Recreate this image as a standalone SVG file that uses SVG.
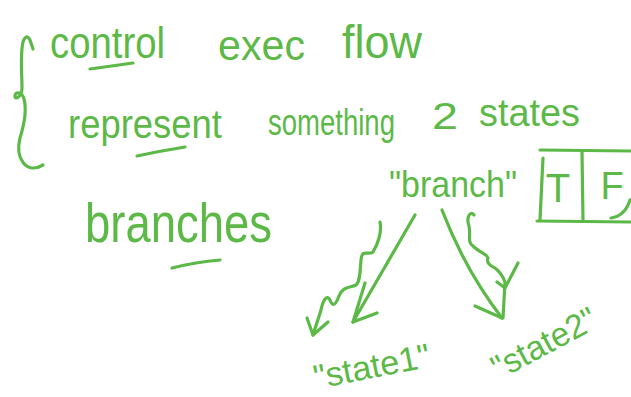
<svg xmlns="http://www.w3.org/2000/svg" width="631" height="397" viewBox="0 0 631 397">
<style>
.t{font-family:"Liberation Sans","DejaVu Sans",sans-serif;fill:#5cb947;}
.s{fill:none;stroke:#5cb947;stroke-width:3.2;stroke-linecap:round;stroke-linejoin:round;}
</style>
<rect width="631" height="397" fill="#ffffff"/>
<g id="brace">
<path class="s" d="M33,49 L30,40 Q26,33 23,42 C20,55 22,75 22,88 C22,96 15,101 15,96 C15,91 22,92 24,99 C27,110 24,125 20,138 C15,158 26,175 43,165"/>
</g>
<g id="line1">
<text class="t" x="50" y="58" font-size="44" textLength="115" lengthAdjust="spacingAndGlyphs">control</text>
<text class="t" x="218" y="60" font-size="42" textLength="87" lengthAdjust="spacingAndGlyphs">exec</text>
<text class="t" x="342" y="58" font-size="46" textLength="80" lengthAdjust="spacingAndGlyphs">flow</text>
<path class="s" d="M90,69 Q112,66 133,63"/>
</g>
<g id="line2">
<text class="t" x="68" y="138" font-size="40" textLength="154" lengthAdjust="spacingAndGlyphs">represent</text>
<text class="t" x="268" y="135" font-size="36" textLength="127" lengthAdjust="spacingAndGlyphs">something</text>
<text class="t" x="432" y="129" font-size="36" textLength="26" lengthAdjust="spacingAndGlyphs">2</text>
<text class="t" x="479" y="126" font-size="38" textLength="101" lengthAdjust="spacingAndGlyphs">states</text>
<path class="s" d="M137,156 Q160,151 185,147"/>
</g>
<g id="branches">
<text class="t" x="85" y="242" font-size="56" textLength="187" lengthAdjust="spacingAndGlyphs">branches</text>
<path class="s" d="M172,268 Q196,262 220,260"/>
</g>
<g id="branch">
<text class="t" x="389" y="197" font-size="36" textLength="128" lengthAdjust="spacingAndGlyphs">"branch"</text>
</g>
<g id="tf-box">
<path class="s" d="M540,150 L631,151"/>
<path class="s" d="M543,158 L540,220"/>
<path class="s" d="M582,151 L583,221"/>
<path class="s" d="M537,221 L631,222"/>
<path class="s" d="M611,218 Q625,216 630,200"/>
<text class="t" x="558" y="202" font-size="40" text-anchor="middle">T</text>
<text class="t" x="612" y="199" font-size="38" text-anchor="middle">F</text>
</g>
<g id="state1">
<text class="t" x="0" y="0" font-size="34" textLength="118" lengthAdjust="spacingAndGlyphs" transform="translate(316,389) rotate(-11)">"state1"</text>
</g>
<g id="state2">
<text class="t" x="0" y="0" font-size="34" textLength="114" lengthAdjust="spacingAndGlyphs" transform="translate(499,380) rotate(-28)">"state2"</text>
</g>
<g id="connectors">
<path class="s" d="M415,215 L353,322"/>
<path class="s" d="M365,283 L353,322 L377,313"/>
<path class="s" d="M380,222 C382,232 378,244 373,252 C368,256 362,248 361,260 C360,272 360,282 356,285 C350,288 343,286 339,296 C336,304 333,308 330,300 C327,294 323,300 321,310 C318,320 315,328 313,335"/>
<path class="s" d="M307,318 L313,335 L328,322"/>
<path class="s" d="M442,210 Q465,270 502,318"/>
<path class="s" d="M475,306 L502,318"/>
<path class="s" d="M474,215 C470,210 466,218 469,226 C471,236 467,242 473,246 C479,252 488,255 488,258 C486,262 490,266 495,268 C500,272 503,276 505,282 L503,318"/>
<path class="s" d="M497,282 L505,288 L518,263"/>
</g>
</svg>
